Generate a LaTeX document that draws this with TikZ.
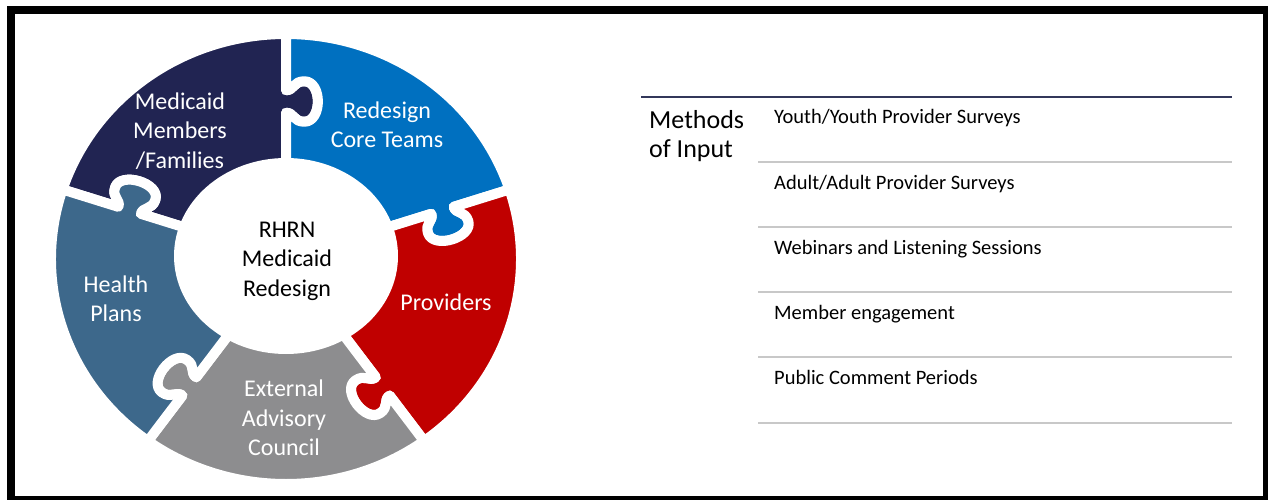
\documentclass[tikz,border=0pt]{standalone}
\usepackage{fontspec}
\setmainfont{Carlito}
\definecolor{cnavy}{RGB}{33,36,82}
\definecolor{cblue}{RGB}{0,112,192}
\definecolor{cred}{RGB}{192,0,0}
\definecolor{cgrey}{RGB}{141,141,143}
\definecolor{csteel}{RGB}{61,104,139}
\definecolor{rulegrey}{RGB}{200,200,200}
\definecolor{topline}{RGB}{50,55,90}
\newcommand{\pzout}[1]{-- ([rotate=#1]0.75,0) .. controls ([rotate=#1]0.75,-0.035) and ([rotate=#1]0.79,-0.03) .. ([rotate=#1]0.79,-0.078) .. controls ([rotate=#1]0.79,-0.155) and ([rotate=#1]0.61,-0.155) .. ([rotate=#1]0.61,-0.078) .. controls ([rotate=#1]0.61,-0.03) and ([rotate=#1]0.65,-0.035) .. ([rotate=#1]0.65,0) -- ([rotate=#1]0.3,0)}
\newcommand{\pzin}[1]{-- ([rotate=#1]0.65,0) .. controls ([rotate=#1]0.65,-0.035) and ([rotate=#1]0.61,-0.03) .. ([rotate=#1]0.61,-0.078) .. controls ([rotate=#1]0.61,-0.155) and ([rotate=#1]0.79,-0.155) .. ([rotate=#1]0.79,-0.078) .. controls ([rotate=#1]0.79,-0.03) and ([rotate=#1]0.75,-0.035) .. ([rotate=#1]0.75,0) -- ([rotate=#1]1,0)}
\newcommand{\pzpiece}[2]{%
  \begin{scope}[rotate=#1]
    \fill[#2, ringedge] (0:1) arc[start angle=0, end angle=-72, radius=1] \pzout{-72} -- (0,0) -- (0.3,0) \pzin{0} -- cycle;
  \end{scope}}
\begin{document}
\begin{tikzpicture}[x=1pt, y=-1pt,
  ringedge/.style={draw=white, line width=10pt, line join=round},
  ptxt/.style={text=white, align=center, font=\fontsize{24}{29.5}\selectfont, inner sep=0pt},
  ctxt/.style={text=black, align=center, font=\fontsize{24}{29.5}\selectfont, inner sep=0pt},
  item/.style={anchor=base west, font=\fontsize{20.5}{24}\selectfont, inner sep=0pt},
  rowline/.style={draw=rulegrey, line width=2pt},
]
\useasboundingbox (0,0) rectangle (1268,500);
\fill[white] (0,0) rectangle (1268,500);
\begin{scope}[shift={(286,259)}, y={(0pt,1pt)}, xscale=235, yscale=225]
  \pzpiece{162}{cnavy}
  \pzpiece{90}{cblue}
  \pzpiece{18}{cred}
  \pzpiece{-54}{cgrey}
  \pzpiece{-126}{csteel}
\end{scope}
\fill[white] (286,256) ellipse[x radius=112pt, y radius=98pt];

\node[ptxt] (med) at (180,131) {Medicaid\\Members\\/Families};
\node[ptxt] (rct) at (387,125) {Redesign\\Core Teams};
\node[ptxt] (prov) at (446,302) {Providers};
\node[ptxt] (ext) at (284,418) {External\\Advisory\\Council};
\node[ptxt] (hp) at (116,299) {Health\\Plans};
\node[ctxt] (core) at (287,261) {RHRN\\Medicaid\\Redesign};

\coordinate (tl1) at (641,97);
\coordinate (tl2) at (1232,97);
\draw[topline, line width=1.5pt] (tl1) -- (tl2);
\node[anchor=north west, align=left, inner sep=0pt, font=\fontsize{26}{29.5}\selectfont] (moi) at (649,110) {Methods\\of Input};

\node[item] (i1) at (774,124) {Youth/Youth Provider Surveys};
\node[item] (i2) at (774,189) {Adult/Adult Provider Surveys};
\node[item] (i3) at (774,254) {Webinars and Listening Sessions};
\node[item] (i4) at (774,319) {Member engagement};
\node[item] (i5) at (774,384) {Public Comment Periods};

\foreach \yy [count=\k] in {162,227,292,357,423} {
  \coordinate (la\k) at (758,\yy);
  \coordinate (lb\k) at (1232,\yy);
  \draw[rowline] (la\k) -- (lb\k);
}

\draw[line width=8.5pt] (11,10) rectangle (1267,500);
\end{tikzpicture}
\end{document}
